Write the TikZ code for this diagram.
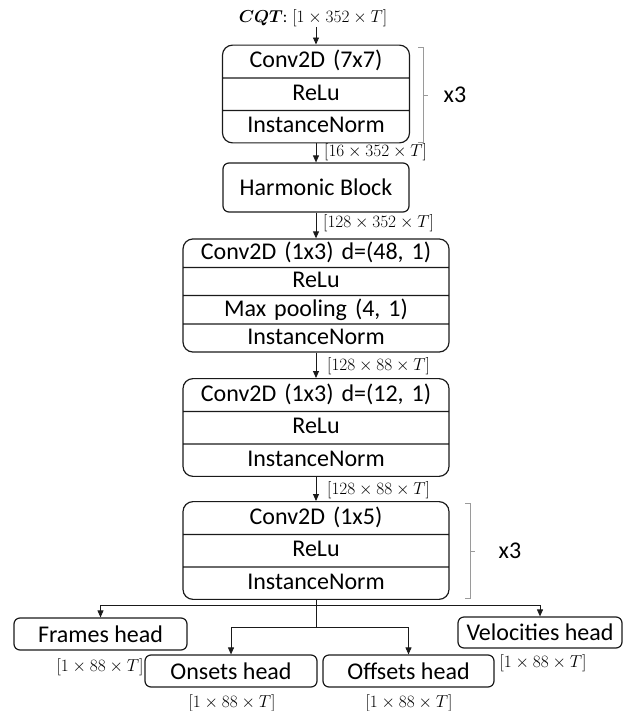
\documentclass[tikz,border=0pt]{standalone}
\usepackage{fontspec}
\setmainfont{Carlito}
\usepackage{amsmath}
\usepackage{bm}
\usetikzlibrary{shapes.multipart,arrows.meta}
\definecolor{vblack}{HTML}{1A1A1A}
\definecolor{vgray}{HTML}{9A9A9A}
\newcommand{\rowstrut}{\rule[-5pt]{0pt}{22pt}}

\tikzset{
	layer/.style={draw = vblack, line width = 1.2pt, rounded corners = 10pt,
		rectangle split, rectangle split parts = #1, align = center,
		inner xsep = 4pt, inner ysep = 4.6pt,
		font = \fontsize{24}{26}\selectfont},
	head/.style={draw = vblack, line width = 1.2pt, rounded corners = 6pt,
		minimum height = 32pt, inner sep = 0pt, font = \fontsize{24}{26}\selectfont},
	dims/.style={inner sep = 0pt, font = \fontsize{16.5}{18}\selectfont},
	flow/.style={draw = vblack, line width = 0.9pt, -{Triangle[length = 7pt, width = 6pt]}},
	bracket/.style={draw = vgray, line width = 0.9pt},
	reps/.style={inner sep = 0pt, font = \fontsize{24}{26}\selectfont}
}

\begin{document}
\begin{tikzpicture}[x = 1pt, y = -1pt]
	\useasboundingbox (0,0) rectangle (633,711);

	% blocks
	\node[dims] (cqt) at (313,18) {$\bm{CQT}$: $[1\times352\times T]$};
	\node[layer = 3, text width = 179pt] (conv1) at (316,94) {\rowstrut Conv2D (7x7) \nodepart{two}\rowstrut ReLu \nodepart{three}\rowstrut InstanceNorm};
	\node[head, minimum width = 186pt, minimum height = 49pt] (harm) at (316,187.5) {Harmonic Block};
	\node[layer = 4, text width = 258pt, inner ysep = 2.4pt] (conv2) at (316,295.5) {\rowstrut Conv2D (1x3) d=(48, 1) \nodepart{two}\rowstrut ReLu \nodepart{three}\rowstrut Max pooling (4, 1) \nodepart{four}\rowstrut InstanceNorm};
	\node[layer = 3, text width = 258pt] (conv3) at (316,427.5) {\rowstrut Conv2D (1x3) d=(12, 1) \nodepart{two}\rowstrut ReLu \nodepart{three}\rowstrut InstanceNorm};
	\node[layer = 3, text width = 258pt] (conv4) at (316,550.5) {\rowstrut Conv2D (1x5) \nodepart{two}\rowstrut ReLu \nodepart{three}\rowstrut InstanceNorm};

	% heads
	\node[head, minimum width = 173pt] (frames) at (100.5,634) {Frames head};
	\node[head, minimum width = 172pt] (onsets) at (231,671) {Onsets head};
	\node[head, minimum width = 171pt] (offsets) at (408.5,671) {Offsets head};
	\node[head, minimum width = 164pt, minimum height = 31pt] (velo) at (540,632.5) {Velocities head};

	% shapes
	\node[dims, anchor = west] (d1) at (324,152) {$[16\times352\times T]$};
	\node[dims, anchor = west] (d2) at (323,223) {$[128\times352\times T]$};
	\node[dims, anchor = west] (d3) at (327,366) {$[128\times88\times T]$};
	\node[dims, anchor = west] (d4) at (327,490) {$[128\times88\times T]$};
	\node[dims] (d5) at (100,667) {$[1\times88\times T]$};
	\node[dims] (d6) at (232,703) {$[1\times88\times T]$};
	\node[dims] (d7) at (409,703) {$[1\times88\times T]$};
	\node[dims] (d8) at (543,663) {$[1\times88\times T]$};

	% arrows
	\draw[flow] (conv1.north |- cqt.south) -- (conv1.north);
	\draw[flow] (conv1) -- (harm);
	\draw[flow] (harm) -- (conv2);
	\draw[flow] (conv2) -- (conv3);
	\draw[flow] (conv3) -- (conv4);
	\coordinate (split1) at (316,605);
	\coordinate (split2) at (316,627);
	\draw[draw = vblack, line width = 0.9pt] (conv4.south) -- (split2);
	\draw[flow] (split1) -| (frames.north);
	\draw[flow] (split1) -| (velo.north);
	\draw[flow] (split2) -| (onsets.north);
	\draw[flow] (split2) -| (offsets.north);

	% x3 brackets
	\draw[bracket] (418,47) -- (423,47) -- (423,142) -- (418,142) (423,95) -- (428,95);
	\node[reps] (rep1) at (455,95) {x3};
	\draw[bracket] (465,503) -- (470,503) -- (470,598) -- (465,598) (470,551) -- (475,551);
	\node[reps] (rep2) at (510,551) {x3};
\end{tikzpicture}
\end{document}
